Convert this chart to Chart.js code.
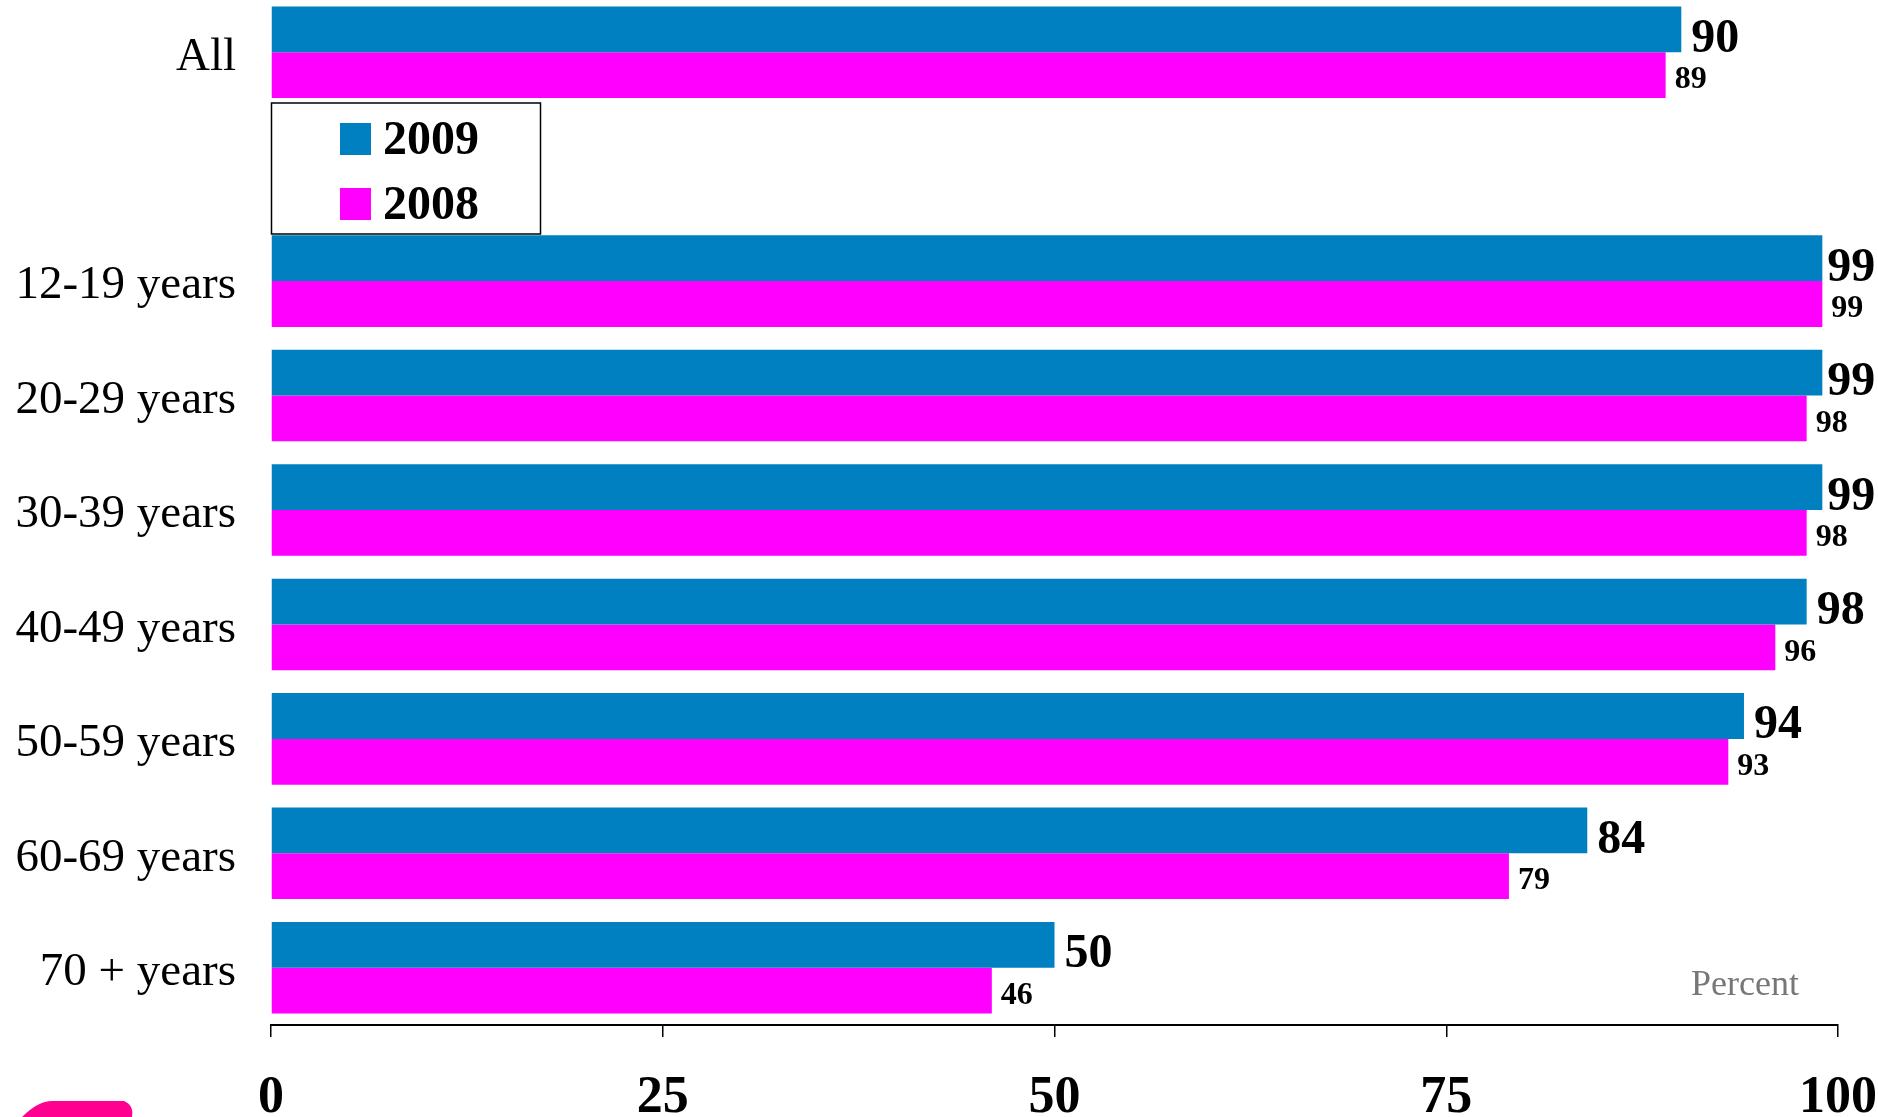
<!DOCTYPE html>
<html>
<head>
<meta charset="utf-8">
<script src="https://cdn.jsdelivr.net/npm/chart.js@4"></script>
<style>
    body { margin: 0; background: #fff; overflow: hidden; }
    .chart-container { position: absolute; left: 0; top: -5px; width: 1878px; height: 1122px; }
</style>
</head>
<body>
<div class="chart-container">
    <canvas id="bars" width="1878" height="1122"></canvas>
</div>
<script>
const ageGroups = ["All", "", "12-19 years", "20-29 years", "30-39 years", "40-49 years", "50-59 years", "60-69 years", "70 + years"];
const values2009 = [90, null, 99, 99, 99, 98, 94, 84, 50];
const values2008 = [89, null, 99, 98, 98, 96, 93, 79, 46];
const xTicks = [0, 25, 50, 75, 100];

const blue = "#0080C0";
const magenta = "#FF00FF";
const serif = "'Liberation Serif', 'Times New Roman', serif";

// value labels right of each bar, big for 2009, small for 2008
const valueLabels = {
    id: 'valueLabels',
    afterDatasetsDraw(chart) {
        const ctx = chart.ctx;
        ctx.save();
        ctx.fillStyle = '#000';
        ctx.textAlign = 'left';
        ctx.textBaseline = 'middle';
        chart.data.datasets.forEach((ds, di) => {
            const meta = chart.getDatasetMeta(di);
            ctx.font = di === 0 ? `bold 48px ${serif}` : `bold 32px ${serif}`;
            meta.data.forEach((bar, i) => {
                if (ds.data[i] == null) return;
                const dx = di === 0 ? (ds.data[i] >= 99 ? 5 : 10) : 9;
                ctx.fillText(ds.data[i], bar.x + dx, bar.y + (di === 0 ? 10 : 5));
            });
        });
        ctx.restore();
    }
};

// boxed legend that sits in the empty row, plus the "Percent" note
const boxLegend = {
    id: 'boxLegend',
    afterDraw(chart) {
        const ctx = chart.ctx;
        const left = chart.chartArea.left;
        const top = 108;
        ctx.save();
        ctx.strokeStyle = '#000';
        ctx.lineWidth = 1.5;
        ctx.strokeRect(left + 0.5, top, 269, 131);
        ctx.font = `bold 48px ${serif}`;
        ctx.textBaseline = 'middle';
        ctx.textAlign = 'left';
        chart.data.datasets.forEach((ds, i) => {
            const cy = top + 36 + i * 65;
            ctx.fillStyle = ds.backgroundColor;
            ctx.fillRect(left + 69, cy - 16, 31, 32);
            ctx.fillStyle = '#000';
            ctx.fillText(ds.label, left + 112, cy + 3);
        });

        ctx.font = `36px ${serif}`;
        ctx.fillStyle = '#777';
        ctx.fillText('Percent', 1691, 991);

        // bit of a logo cut off at the lower left
        ctx.fillStyle = '#FF0090';
        ctx.beginPath();
        ctx.moveTo(22, 1122);
        ctx.quadraticCurveTo(38, 1106, 52, 1106);
        ctx.lineTo(124, 1106);
        ctx.quadraticCurveTo(134, 1110, 132, 1122);
        ctx.closePath();
        ctx.fill();
        ctx.restore();
    }
};

new Chart(document.getElementById('bars').getContext('2d'), {
    type: 'bar',
    data: {
        labels: ageGroups,
        datasets: [
            { label: '2009', data: values2009, backgroundColor: blue },
            { label: '2008', data: values2008, backgroundColor: magenta },
        ],
    },
    options: {
        indexAxis: 'y',
        responsive: false,
        animation: false,
        devicePixelRatio: 1,
        categoryPercentage: 0.8,
        barPercentage: 1.0,
        layout: { padding: { top: 0, right: 40, left: 0, bottom: 0 } },
        plugins: {
            legend: { display: false },
            tooltip: { enabled: false },
        },
        scales: {
            x: {
                min: 0,
                max: 100,
                afterBuildTicks: (scale) => { scale.ticks = xTicks.map(v => ({ value: v })); },
                afterFit: (scale) => {
                    scale.height = 92;
                    scale.paddingLeft = 0;
                    scale.paddingRight = 0;
                },
                grid: { drawOnChartArea: false, tickLength: 12, color: '#000', lineWidth: 1.5 },
                border: { display: true, color: '#000', width: 2 },
                ticks: {
                    color: '#000',
                    padding: 30,
                    maxRotation: 0,
                    font: { family: serif, size: 52, weight: 'bold' },
                },
            },
            y: {
                afterFit: (scale) => {
                    scale.width = 271;
                    scale.paddingTop = 0;
                    scale.paddingBottom = 0;
                },
                grid: { display: false },
                border: { display: false },
                ticks: {
                    color: '#000',
                    padding: 27,
                    labelOffset: 5,
                    font: { family: serif, size: 47 },
                },
            },
        },
    },
    plugins: [valueLabels, boxLegend],
});
</script>
</body>
</html>
